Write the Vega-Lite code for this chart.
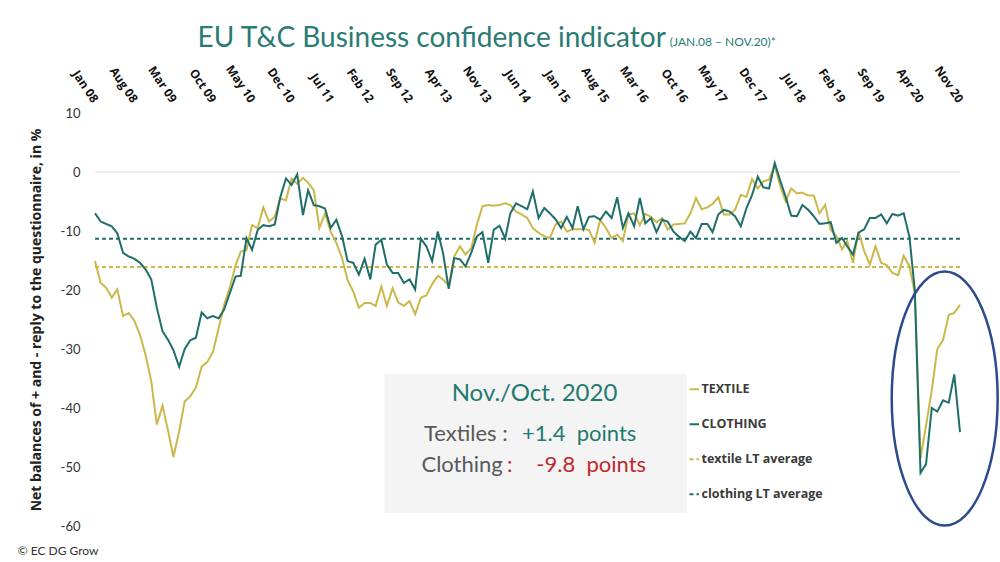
{
  "$schema": "https://vega.github.io/schema/vega-lite/v6.json",
  "width": 865,
  "height": 413,
  "autosize": "none",
  "padding": {"left": 95, "top": 113, "right": 40, "bottom": 36},
  "background": "white",
  "config": {"view": {"stroke": null}, "font": "Lato"},
  "encoding": {
    "x": {
      "field": "d", "type": "temporal",
      "scale": {"type": "utc", "domain": [{"year": 2008, "month": 1, "date": 1, "utc": true}, {"year": 2020, "month": 11, "date": 1, "utc": true}]},
      "axis": {
        "orient": "top", "title": null, "grid": false, "domain": false, "ticks": false,
        "labelExpr": "utcFormat(datum.value, '%b %y')",
        "values": [
          {"year":2008,"month":1,"date":1,"utc":true},{"year":2008,"month":8,"date":1,"utc":true},{"year":2009,"month":3,"date":1,"utc":true},{"year":2009,"month":10,"date":1,"utc":true},{"year":2010,"month":5,"date":1,"utc":true},{"year":2010,"month":12,"date":1,"utc":true},{"year":2011,"month":7,"date":1,"utc":true},{"year":2012,"month":2,"date":1,"utc":true},{"year":2012,"month":9,"date":1,"utc":true},{"year":2013,"month":4,"date":1,"utc":true},{"year":2013,"month":11,"date":1,"utc":true},{"year":2014,"month":6,"date":1,"utc":true},{"year":2015,"month":1,"date":1,"utc":true},{"year":2015,"month":8,"date":1,"utc":true},{"year":2016,"month":3,"date":1,"utc":true},{"year":2016,"month":10,"date":1,"utc":true},{"year":2017,"month":5,"date":1,"utc":true},{"year":2017,"month":12,"date":1,"utc":true},{"year":2018,"month":7,"date":1,"utc":true},{"year":2019,"month":2,"date":1,"utc":true},{"year":2019,"month":9,"date":1,"utc":true},{"year":2020,"month":4,"date":1,"utc":true},{"year":2020,"month":11,"date":1,"utc":true}
        ],
        "labelAngle": 56, "labelAlign": "right", "labelBaseline": "middle",
        "labelFont": "Open Sans", "labelFontSize": 12, "labelFontWeight": "bold", "labelColor": "#111",
        "labelPadding": 12, "labelOverlap": false, "labelFlush": false
      }
    },
    "y": {
      "field": "value", "type": "quantitative",
      "scale": {"domain": [-60, 10], "nice": false, "zero": false},
      "axis": {
        "values": [-60, -50, -40, -30, -20, -10, 0, 10],
        "labelExpr": "'' + datum.value",
        "grid": false, "domain": false, "ticks": false,
        "labelPadding": 15, "labelFont": "Lato", "labelFontSize": 13, "labelColor": "#333",
        "title": "Net balances of + and - reply to the questionnaire, in %",
        "titleFont": "Open Sans", "titleFontSize": 14, "titleFontWeight": "bold", "titleColor": "#222", "titlePadding": 17
      }
    }
  },
  "layer": [
    {
      "data": {"values": [{"value": 0, "d": "2008-01", "d2": "2020-11"}]},
      "mark": {"type": "rule", "color": "#e8e8e8", "strokeWidth": 1.5},
      "encoding": {"x2": {"field": "d2"}}
    },
    {
      "data": {"values": [{"series": "textile LT average", "value": -16.1, "d": "2008-01", "d2": "2020-11"}, {"series": "clothing LT average", "value": -11.3, "d": "2008-01", "d2": "2020-11"}]},
      "mark": {"type": "rule", "strokeWidth": 2},
      "encoding": {
        "x2": {"field": "d2"},
        "color": {"field": "series", "type": "nominal"},
        "strokeDash": {"field": "series", "type": "nominal"}
      }
    },
    {
      "data": {"values": [
        {"d":"2008-01","TEXTILE":-15.1,"CLOTHING":-7.0},{"d":"2008-02","TEXTILE":-18.8,"CLOTHING":-8.4},{"d":"2008-03","TEXTILE":-19.6,"CLOTHING":-8.8},{"d":"2008-04","TEXTILE":-21.3,"CLOTHING":-9.2},{"d":"2008-05","TEXTILE":-19.9,"CLOTHING":-10.4},{"d":"2008-06","TEXTILE":-24.4,"CLOTHING":-13.7},{"d":"2008-07","TEXTILE":-23.9,"CLOTHING":-14.3},{"d":"2008-08","TEXTILE":-25.2,"CLOTHING":-14.7},{"d":"2008-09","TEXTILE":-27.6,"CLOTHING":-15.4},{"d":"2008-10","TEXTILE":-31.0,"CLOTHING":-16.5},{"d":"2008-11","TEXTILE":-35.5,"CLOTHING":-18.2},{"d":"2008-12","TEXTILE":-42.8,"CLOTHING":-23.0},
        {"d":"2009-01","TEXTILE":-39.6,"CLOTHING":-27.0},{"d":"2009-02","TEXTILE":-44.0,"CLOTHING":-28.5},{"d":"2009-03","TEXTILE":-48.3,"CLOTHING":-30.2},{"d":"2009-04","TEXTILE":-44.0,"CLOTHING":-33.0},{"d":"2009-05","TEXTILE":-38.9,"CLOTHING":-30.0},{"d":"2009-06","TEXTILE":-38.0,"CLOTHING":-28.5},{"d":"2009-07","TEXTILE":-36.5,"CLOTHING":-28.1},{"d":"2009-08","TEXTILE":-33.0,"CLOTHING":-23.8},{"d":"2009-09","TEXTILE":-32.2,"CLOTHING":-24.8},{"d":"2009-10","TEXTILE":-30.5,"CLOTHING":-24.4},{"d":"2009-11","TEXTILE":-26.5,"CLOTHING":-24.8},{"d":"2009-12","TEXTILE":-22.5,"CLOTHING":-23.3},
        {"d":"2010-01","TEXTILE":-19.5,"CLOTHING":-20.5},{"d":"2010-02","TEXTILE":-15.8,"CLOTHING":-17.7},{"d":"2010-03","TEXTILE":-13.5,"CLOTHING":-17.6},{"d":"2010-04","TEXTILE":-13.2,"CLOTHING":-11.2},{"d":"2010-05","TEXTILE":-9.0,"CLOTHING":-13.2},{"d":"2010-06","TEXTILE":-9.5,"CLOTHING":-9.8},{"d":"2010-07","TEXTILE":-6.0,"CLOTHING":-9.0},{"d":"2010-08","TEXTILE":-8.4,"CLOTHING":-9.2},{"d":"2010-09","TEXTILE":-7.6,"CLOTHING":-8.9},{"d":"2010-10","TEXTILE":-4.5,"CLOTHING":-4.3},{"d":"2010-11","TEXTILE":-4.8,"CLOTHING":-1.1},{"d":"2010-12","TEXTILE":-1.1,"CLOTHING":-2.2},
        {"d":"2011-01","TEXTILE":-2.0,"CLOTHING":-0.4},{"d":"2011-02","TEXTILE":-1.0,"CLOTHING":-7.3},{"d":"2011-03","TEXTILE":-1.8,"CLOTHING":-3.1},{"d":"2011-04","TEXTILE":-3.1,"CLOTHING":-5.6},{"d":"2011-05","TEXTILE":-9.5,"CLOTHING":-5.8},{"d":"2011-06","TEXTILE":-7.0,"CLOTHING":-6.2},{"d":"2011-07","TEXTILE":-10.1,"CLOTHING":-9.5},{"d":"2011-08","TEXTILE":-12.0,"CLOTHING":-8.1},{"d":"2011-09","TEXTILE":-14.6,"CLOTHING":-10.9},{"d":"2011-10","TEXTILE":-18.3,"CLOTHING":-15.1},{"d":"2011-11","TEXTILE":-20.3,"CLOTHING":-15.4},{"d":"2011-12","TEXTILE":-23.0,"CLOTHING":-17.4},
        {"d":"2012-01","TEXTILE":-22.2,"CLOTHING":-14.7},{"d":"2012-02","TEXTILE":-22.2,"CLOTHING":-18.2},{"d":"2012-03","TEXTILE":-22.7,"CLOTHING":-12.3},{"d":"2012-04","TEXTILE":-19.4,"CLOTHING":-11.5},{"d":"2012-05","TEXTILE":-22.7,"CLOTHING":-15.7},{"d":"2012-06","TEXTILE":-19.7,"CLOTHING":-17.1},{"d":"2012-07","TEXTILE":-22.1,"CLOTHING":-17.1},{"d":"2012-08","TEXTILE":-22.7,"CLOTHING":-18.8},{"d":"2012-09","TEXTILE":-21.9,"CLOTHING":-18.2},{"d":"2012-10","TEXTILE":-24.1,"CLOTHING":-19.9},{"d":"2012-11","TEXTILE":-21.3,"CLOTHING":-11.3},{"d":"2012-12","TEXTILE":-20.9,"CLOTHING":-12.6},
        {"d":"2013-01","TEXTILE":-19.0,"CLOTHING":-15.1},{"d":"2013-02","TEXTILE":-17.6,"CLOTHING":-10.1},{"d":"2013-03","TEXTILE":-18.2,"CLOTHING":-13.7},{"d":"2013-04","TEXTILE":-19.3,"CLOTHING":-19.8},{"d":"2013-05","TEXTILE":-14.3,"CLOTHING":-14.6},{"d":"2013-06","TEXTILE":-12.6,"CLOTHING":-14.8},{"d":"2013-07","TEXTILE":-14.0,"CLOTHING":-16.0},{"d":"2013-08","TEXTILE":-12.9,"CLOTHING":-13.7},{"d":"2013-09","TEXTILE":-8.9,"CLOTHING":-10.9},{"d":"2013-10","TEXTILE":-5.8,"CLOTHING":-10.2},{"d":"2013-11","TEXTILE":-5.6,"CLOTHING":-15.4},{"d":"2013-12","TEXTILE":-5.7,"CLOTHING":-9.8},
        {"d":"2014-01","TEXTILE":-5.6,"CLOTHING":-9.1},{"d":"2014-02","TEXTILE":-5.3,"CLOTHING":-11.3},{"d":"2014-03","TEXTILE":-5.6,"CLOTHING":-7.0},{"d":"2014-04","TEXTILE":-6.7,"CLOTHING":-5.3},{"d":"2014-05","TEXTILE":-7.2,"CLOTHING":-5.8},{"d":"2014-06","TEXTILE":-7.8,"CLOTHING":-6.3},{"d":"2014-07","TEXTILE":-9.5,"CLOTHING":-3.3},{"d":"2014-08","TEXTILE":-10.3,"CLOTHING":-7.8},{"d":"2014-09","TEXTILE":-10.9,"CLOTHING":-6.1},{"d":"2014-10","TEXTILE":-11.2,"CLOTHING":-7.0},{"d":"2014-11","TEXTILE":-8.9,"CLOTHING":-8.0},{"d":"2014-12","TEXTILE":-8.4,"CLOTHING":-9.5},
        {"d":"2015-01","TEXTILE":-10.1,"CLOTHING":-7.6},{"d":"2015-02","TEXTILE":-9.7,"CLOTHING":-9.5},{"d":"2015-03","TEXTILE":-9.7,"CLOTHING":-5.8},{"d":"2015-04","TEXTILE":-9.7,"CLOTHING":-9.7},{"d":"2015-05","TEXTILE":-9.8,"CLOTHING":-7.6},{"d":"2015-06","TEXTILE":-12.0,"CLOTHING":-7.5},{"d":"2015-07","TEXTILE":-8.1,"CLOTHING":-8.1},{"d":"2015-08","TEXTILE":-9.5,"CLOTHING":-6.7},{"d":"2015-09","TEXTILE":-11.2,"CLOTHING":-7.8},{"d":"2015-10","TEXTILE":-10.6,"CLOTHING":-4.3},{"d":"2015-11","TEXTILE":-11.7,"CLOTHING":-9.5},{"d":"2015-12","TEXTILE":-7.2,"CLOTHING":-7.0},
        {"d":"2016-01","TEXTILE":-7.0,"CLOTHING":-9.2},{"d":"2016-02","TEXTILE":-9.0,"CLOTHING":-4.4},{"d":"2016-03","TEXTILE":-7.1,"CLOTHING":-8.7},{"d":"2016-04","TEXTILE":-7.6,"CLOTHING":-7.8},{"d":"2016-05","TEXTILE":-8.5,"CLOTHING":-10.2},{"d":"2016-06","TEXTILE":-7.8,"CLOTHING":-8.1},{"d":"2016-07","TEXTILE":-9.8,"CLOTHING":-8.4},{"d":"2016-08","TEXTILE":-8.9,"CLOTHING":-10.1},{"d":"2016-09","TEXTILE":-8.8,"CLOTHING":-11.0},{"d":"2016-10","TEXTILE":-8.7,"CLOTHING":-11.7},{"d":"2016-11","TEXTILE":-7.0,"CLOTHING":-10.1},{"d":"2016-12","TEXTILE":-4.4,"CLOTHING":-11.2},
        {"d":"2017-01","TEXTILE":-6.3,"CLOTHING":-8.8},{"d":"2017-02","TEXTILE":-6.0,"CLOTHING":-8.8},{"d":"2017-03","TEXTILE":-5.4,"CLOTHING":-10.2},{"d":"2017-04","TEXTILE":-4.3,"CLOTHING":-7.2},{"d":"2017-05","TEXTILE":-7.2,"CLOTHING":-6.4},{"d":"2017-06","TEXTILE":-7.2,"CLOTHING":-6.7},{"d":"2017-07","TEXTILE":-6.4,"CLOTHING":-7.5},{"d":"2017-08","TEXTILE":-3.9,"CLOTHING":-9.2},{"d":"2017-09","TEXTILE":-4.2,"CLOTHING":-6.1},{"d":"2017-10","TEXTILE":-1.2,"CLOTHING":-3.9},{"d":"2017-11","TEXTILE":-2.8,"CLOTHING":-0.8},{"d":"2017-12","TEXTILE":-1.6,"CLOTHING":-2.6},
        {"d":"2018-01","TEXTILE":-1.3,"CLOTHING":-2.8},{"d":"2018-02","TEXTILE":1.2,"CLOTHING":1.5},{"d":"2018-03","TEXTILE":-2.2,"CLOTHING":-1.3},{"d":"2018-04","TEXTILE":-5.0,"CLOTHING":-4.2},{"d":"2018-05","TEXTILE":-2.8,"CLOTHING":-7.4},{"d":"2018-06","TEXTILE":-3.6,"CLOTHING":-7.5},{"d":"2018-07","TEXTILE":-3.5,"CLOTHING":-5.6},{"d":"2018-08","TEXTILE":-4.0,"CLOTHING":-6.4},{"d":"2018-09","TEXTILE":-4.0,"CLOTHING":-7.5},{"d":"2018-10","TEXTILE":-7.0,"CLOTHING":-8.8},{"d":"2018-11","TEXTILE":-5.6,"CLOTHING":-8.7},{"d":"2018-12","TEXTILE":-9.8,"CLOTHING":-8.5},
        {"d":"2019-01","TEXTILE":-10.9,"CLOTHING":-12.0},{"d":"2019-02","TEXTILE":-13.1,"CLOTHING":-11.2},{"d":"2019-03","TEXTILE":-11.7,"CLOTHING":-12.6},{"d":"2019-04","TEXTILE":-15.4,"CLOTHING":-14.0},{"d":"2019-05","TEXTILE":-10.1,"CLOTHING":-10.3},{"d":"2019-06","TEXTILE":-13.4,"CLOTHING":-9.7},{"d":"2019-07","TEXTILE":-15.7,"CLOTHING":-7.8},{"d":"2019-08","TEXTILE":-12.6,"CLOTHING":-7.8},{"d":"2019-09","TEXTILE":-15.4,"CLOTHING":-7.2},{"d":"2019-10","TEXTILE":-15.8,"CLOTHING":-8.7},{"d":"2019-11","TEXTILE":-17.1,"CLOTHING":-7.1},{"d":"2019-12","TEXTILE":-17.5,"CLOTHING":-7.4},
        {"d":"2020-01","TEXTILE":-14.2,"CLOTHING":-7.0},{"d":"2020-02","TEXTILE":-16.0,"CLOTHING":-11.0},{"d":"2020-03","TEXTILE":-20.5,"CLOTHING":-20.0},{"d":"2020-04","TEXTILE":-48.5,"CLOTHING":-51.0},{"d":"2020-05","TEXTILE":-43.0,"CLOTHING":-49.5},{"d":"2020-06","TEXTILE":-37.0,"CLOTHING":-40.0},{"d":"2020-07","TEXTILE":-30.0,"CLOTHING":-40.6},{"d":"2020-08","TEXTILE":-28.5,"CLOTHING":-38.7},{"d":"2020-09","TEXTILE":-24.2,"CLOTHING":-39.1},{"d":"2020-10","TEXTILE":-23.9,"CLOTHING":-34.3},{"d":"2020-11","TEXTILE":-22.5,"CLOTHING":-44.1}
      ]},
      "transform": [{"fold": ["TEXTILE", "CLOTHING"], "as": ["series", "value"]}],
      "mark": {"type": "line", "strokeWidth": 2},
      "encoding": {
        "color": {
          "field": "series", "type": "nominal",
          "scale": {"domain": ["TEXTILE", "CLOTHING", "textile LT average", "clothing LT average"], "range": ["#cbb84a", "#1f6e6a", "#cbb84a", "#1f6e6a"]},
          "legend": {"orient": "none", "legendX": 593, "legendY": 270, "title": null, "symbolType": "stroke", "symbolSize": 90, "symbolStrokeWidth": 2, "labelFont": "Open Sans", "labelFontSize": 12.5, "labelFontWeight": "bold", "labelColor": "#3a3a3a", "rowPadding": 22, "labelOffset": 1, "padding": 0}
        },
        "strokeDash": {
          "field": "series", "type": "nominal",
          "scale": {"domain": ["TEXTILE", "CLOTHING", "textile LT average", "clothing LT average"], "range": [[1, 0], [1, 0], [4, 3], [4, 3]]},
          "legend": {"orient": "none", "legendX": 593, "legendY": 270, "title": null, "symbolType": "stroke", "symbolSize": 90, "symbolStrokeWidth": 2, "labelFont": "Open Sans", "labelFontSize": 12.5, "labelFontWeight": "bold", "labelColor": "#3a3a3a", "rowPadding": 22, "labelOffset": 1, "padding": 0}
        }
      }
    },
    {
      "data": {"values": [{"d": "2012-04-18", "d2": "2016-10-13", "value": -34.2, "value2": -57.8}]},
      "mark": {"type": "rect", "color": "#f4f4f4"},
      "encoding": {"x2": {"field": "d2"}, "y2": {"field": "value2"}}
    },
    {
      "data": {"values": [{"d": "2014-07-10", "value": -38.8, "label": "Nov./Oct. 2020"}]},
      "mark": {"type": "text", "align": "center", "baseline": "alphabetic", "font": "Lato", "fontSize": 24, "color": "#1f7a70"},
      "encoding": {"text": {"field": "label"}}
    },
    {
      "data": {"values": [{"d": "2014-02-15", "value": -45.6, "label": "Textiles :"}, {"d": "2014-01-19", "value": -50.8, "label": "Clothing"}]},
      "mark": {"type": "text", "align": "right", "baseline": "alphabetic", "font": "Lato", "fontSize": 22, "color": "#595959"},
      "encoding": {"text": {"field": "label"}}
    },
    {
      "data": {"values": [{"d": "2014-05-03", "value": -45.6, "label": "+1.4\u00a0\u00a0points"}]},
      "mark": {"type": "text", "align": "left", "baseline": "alphabetic", "font": "Lato", "fontSize": 22, "color": "#1f7a70"},
      "encoding": {"text": {"field": "label"}}
    },
    {
      "data": {"values": [{"d": "2014-02-11", "value": -50.8, "label": ":"}, {"d": "2014-07-20", "value": -50.8, "label": "-9.8\u00a0\u00a0points"}]},
      "mark": {"type": "text", "align": "left", "baseline": "alphabetic", "font": "Lato", "fontSize": 22, "color": "#c0282d"},
      "encoding": {"text": {"field": "label"}}
    },
    {
      "data": {"values": [{"d": "2009-07-10", "value": 21.25, "label": "EU T&C Business confidence indicator"}]},
      "mark": {"type": "text", "align": "left", "baseline": "alphabetic", "font": "Lato", "fontSize": 28, "color": "#2a7b74"},
      "encoding": {"text": {"field": "label"}}
    },
    {
      "data": {"values": [{"d": "2016-07-12", "value": 21.4, "label": "(JAN.08 \u2013 NOV.20)*"}]},
      "mark": {"type": "text", "align": "left", "baseline": "alphabetic", "font": "Lato", "fontSize": 12, "color": "#2a7b74"},
      "encoding": {"text": {"field": "label"}}
    },
    {
      "data": {"values": [{"d": "2006-11-08", "value": -64.9, "label": "\u00a9 EC DG Grow"}]},
      "mark": {"type": "text", "align": "left", "baseline": "alphabetic", "font": "Lato", "fontSize": 12, "color": "#333"},
      "encoding": {"text": {"field": "label"}}
    },
    {
      "data": {"values": [{"d": "2020-08-10", "value": -38.4}]},
      "mark": {"type": "point", "shape": "M0,-1C0.2303,-1,0.417,-0.5523,0.417,0C0.417,0.5523,0.2303,1,0,1C-0.2303,1,-0.417,0.5523,-0.417,0C-0.417,-0.5523,-0.2303,-1,0,-1Z", "size": 64516, "filled": false, "color": "#2d4a8e", "strokeWidth": 2.5, "opacity": 1}
    }
  ]
}
